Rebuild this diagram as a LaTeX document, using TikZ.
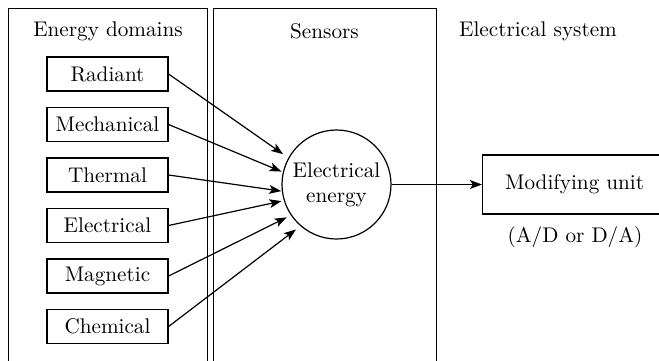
\documentclass[tikz,border=0pt]{standalone}
\usetikzlibrary{arrows.meta,positioning}

\begin{document}
\begin{tikzpicture}[
  x=0.5pt, y=-0.5pt,
  font=\fontsize{10.6}{12.5}\selectfont,
  line width=0.6pt,
  node distance=7.65pt,
  panel/.style={rectangle, draw, anchor=north west, minimum height=190pt},
  domainbox/.style={rectangle, draw, minimum width=60.5pt, minimum height=17pt, inner sep=0pt},
  titletext/.style={inner sep=0pt},
  arrow/.style={-{Stealth[length=6pt, width=4.4pt, inset=1.4pt]}}
]
\useasboundingbox (0,0) rectangle (659,360);
\node[panel, minimum width=99.5pt] (domains) at (8,8) {};
\node[panel, minimum width=111.5pt] (sensors) at (213,8) {};
\node[titletext] (domtitle) at (108,31) {Energy domains};
\node[titletext] (sentitle) at (324.5,31) {Sensors};
\node[titletext] (systitle) at (538,31) {Electrical system};

\node[domainbox] (radiant) at (107.5,74) {Radiant};
\node[domainbox, below=of radiant] (mech) {Mechanical};
\node[domainbox, below=of mech] (therm) {Thermal};
\node[domainbox, below=of therm] (elec) {Electrical};
\node[domainbox, below=of elec] (magn) {Magnetic};
\node[domainbox, below=of magn] (chem) {Chemical};

\node[circle, draw, minimum size=54.5pt, inner sep=0pt, align=center] (energy) at (336.5,184.5) {Electrical\\energy};
\node[rectangle, draw, anchor=west, minimum width=92pt, minimum height=29.5pt] (modify) at (482,184.5) {Modifying unit};
\node[titletext] (adda) at (575,237) {(A/D or D/A)};

\foreach \src/\ang/\gap in {radiant/151/3.2pt, mech/167/0.7pt, therm/187/0.3pt, elec/197/1.2pt, magn/214/2.3pt, chem/229/2.8pt}
  \draw[arrow, shorten >=\gap] (\src.east) -- (energy.\ang);
\draw[arrow] (energy) -- (modify);
\end{tikzpicture}
\end{document}
